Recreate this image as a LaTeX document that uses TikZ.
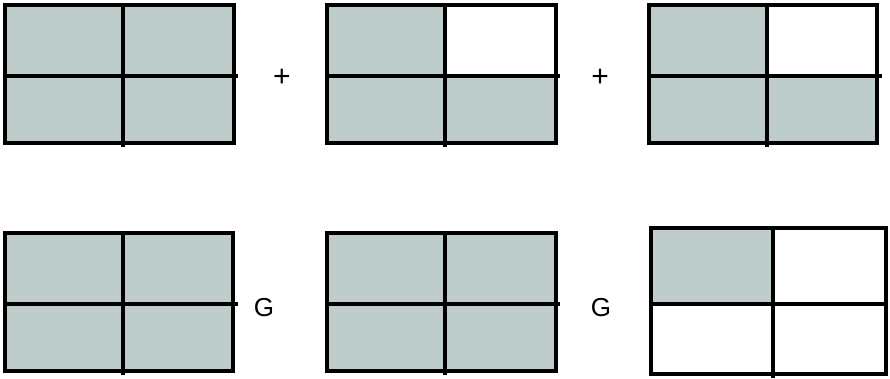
\documentclass[tikz,border=0pt]{standalone}
\usepackage{fontspec}
\setmainfont{Liberation Sans}
\definecolor{cellfill}{RGB}{191,204,204}
\begin{document}
\begin{tikzpicture}[x=1pt,y=-1pt,
  outer/.style={draw=black,line width=4pt},
  inner/.style={draw=black,line width=3.5pt},
  lbl/.style={inner sep=0pt,font=\fontsize{26}{26}\selectfont},
  plbl/.style={inner sep=0pt,font=\fontsize{30}{30}\selectfont}]
\useasboundingbox (0,0) rectangle (890,378);
\newcommand{\mygrid}[9]{%
  \fill[#7] (#1,#2) rectangle (#5,#6);
  \fill[#8] (#5,#2) rectangle (#3,#6);
  \fill[#9] (#1,#6) rectangle (#3,#4);
  \draw[outer] (#1,#2) rectangle (#3,#4);
}
% top row
\mygrid{5}{5}{234}{143}{123}{76}{cellfill}{cellfill}{cellfill}
\draw[inner] (5,76) -- (238,76);
\draw[inner] (123,5) -- (123,147);
\mygrid{327}{5}{556}{143}{445}{76}{cellfill}{white}{cellfill}
\draw[inner] (327,76) -- (560,76);
\draw[inner] (445,5) -- (445,147);
\mygrid{649}{5}{877}{143}{767}{76}{cellfill}{white}{cellfill}
\draw[inner] (649,76) -- (882,76);
\draw[inner] (767,5) -- (767,147);
% bottom row
\mygrid{5}{233}{233}{371}{123}{304}{cellfill}{cellfill}{cellfill}
\draw[inner] (5,304) -- (238,304);
\draw[inner] (123,233) -- (123,375);
\mygrid{327}{233}{556}{371}{445}{304}{cellfill}{cellfill}{cellfill}
\draw[inner] (327,304) -- (560,304);
\draw[inner] (445,233) -- (445,375);
\mygrid{651}{228}{886}{374}{773}{304}{cellfill}{white}{white}
\draw[inner] (651,304) -- (886,304);
\draw[inner] (773,228) -- (773,378);
% labels
\node[plbl] (p1) at (282,78) {+};
\node[plbl] (p2) at (600,78) {+};
\node[lbl] (g1) at (264,308) {G};
\node[lbl] (g2) at (601,308) {G};
\end{tikzpicture}
\end{document}
